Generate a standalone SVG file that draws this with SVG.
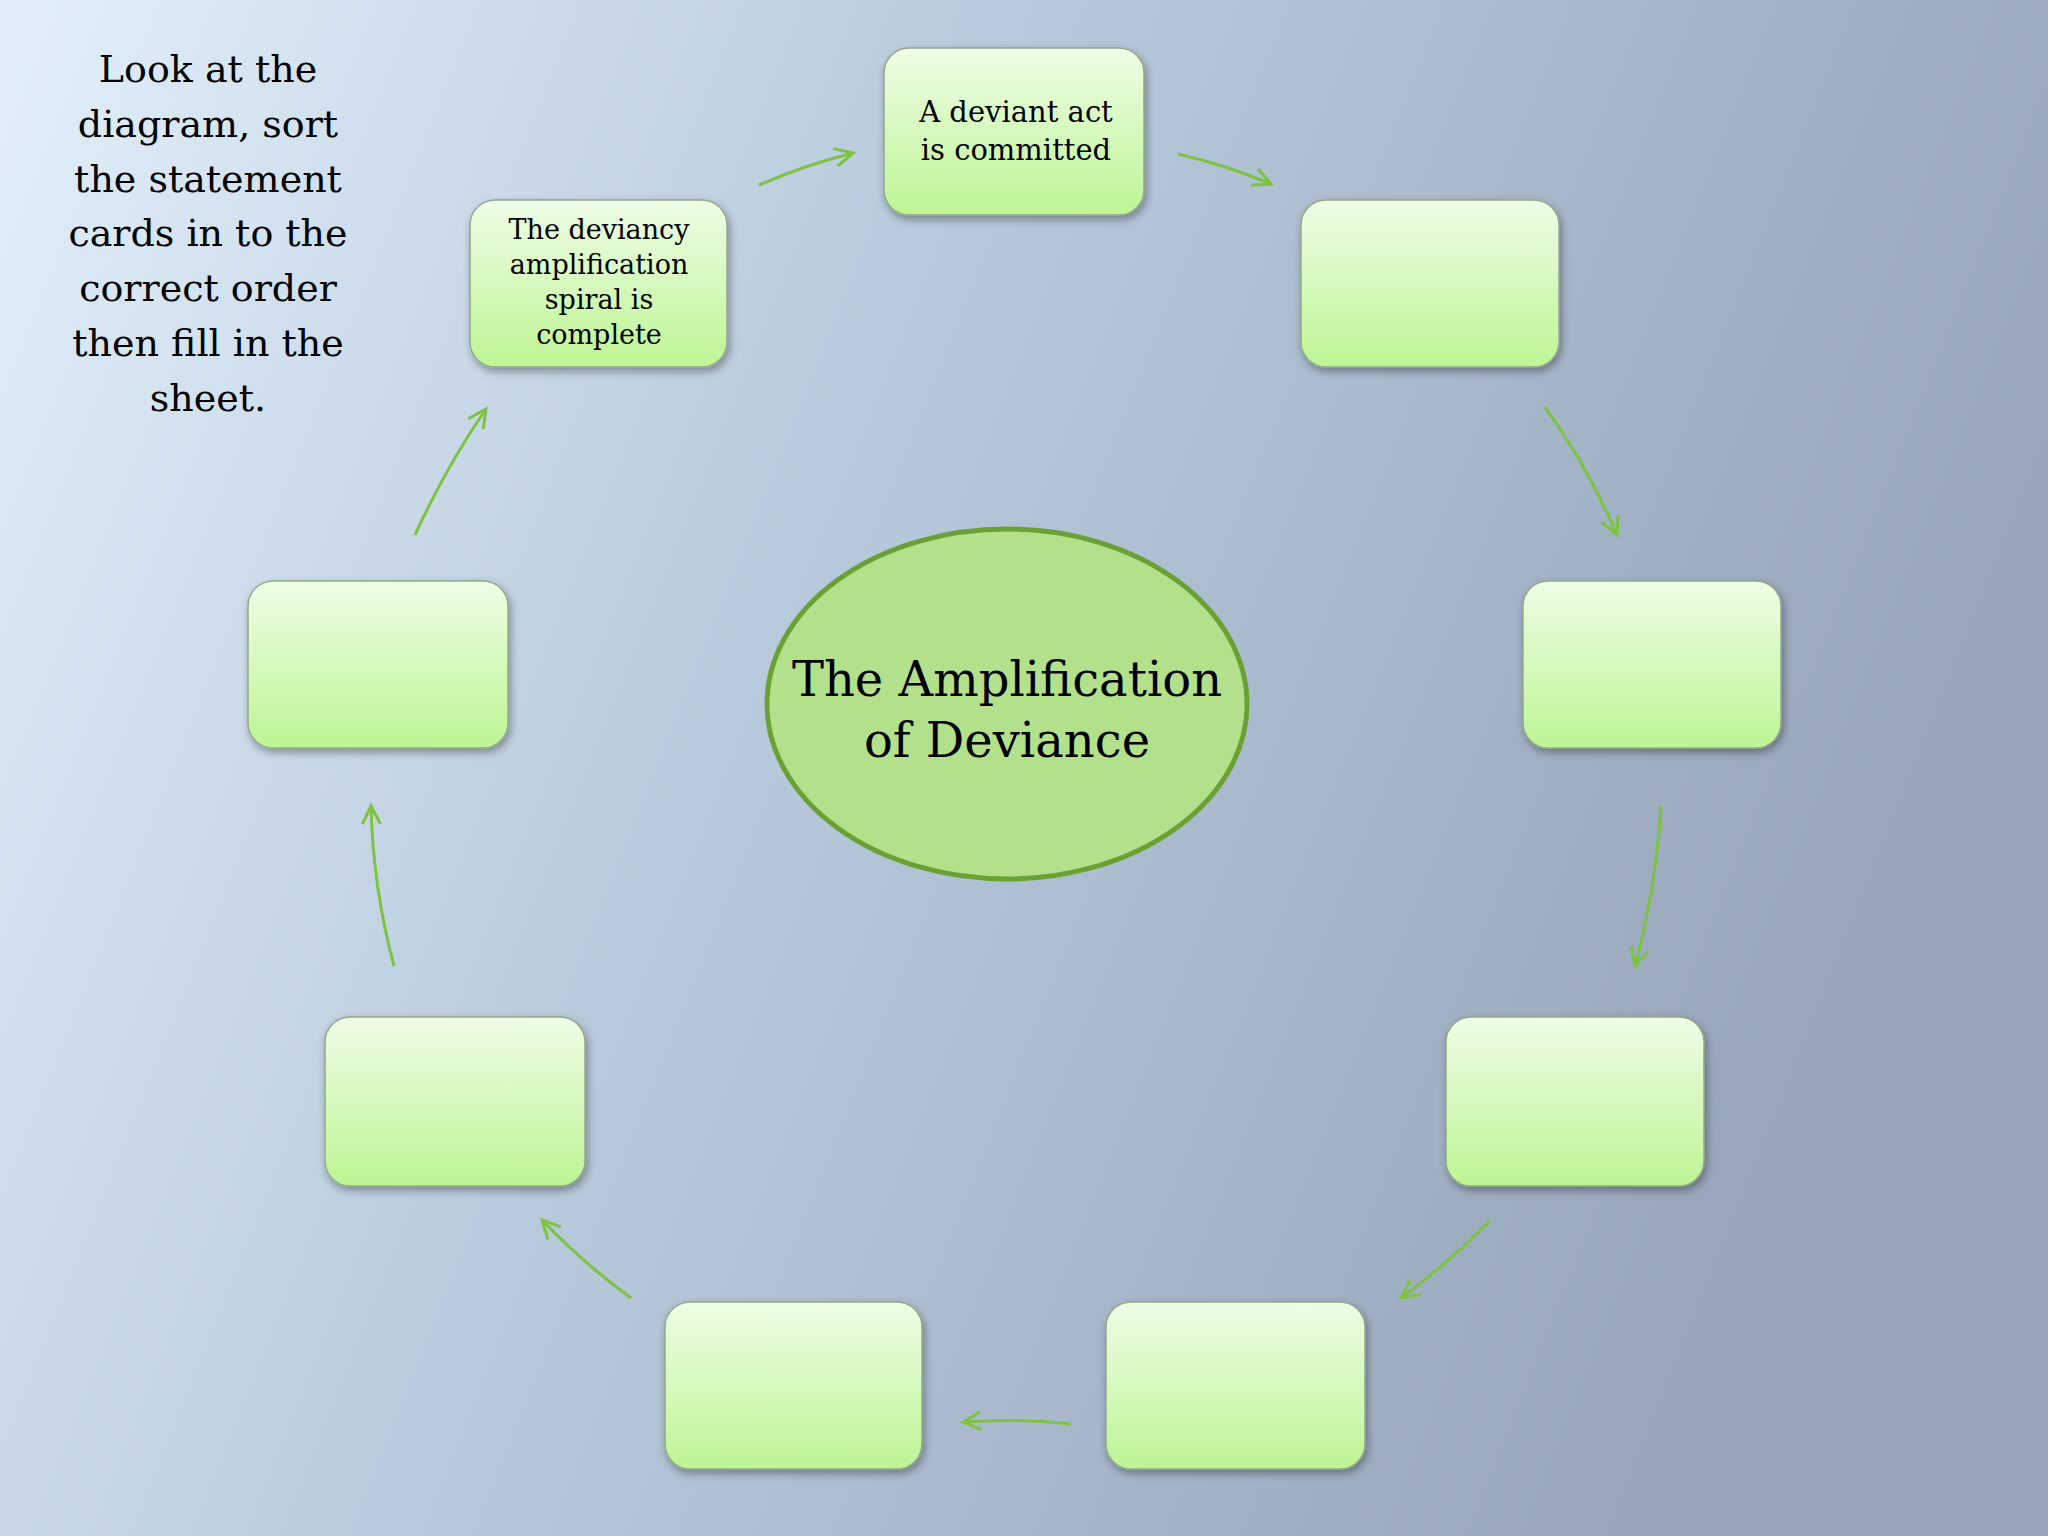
<svg xmlns="http://www.w3.org/2000/svg" width="2048" height="1536" viewBox="0 0 2048 1536">
<defs>
<linearGradient id="bg" x1="0" y1="0" x2="1" y2="0.3">
<stop offset="0" stop-color="#e2effb"/><stop offset="0.45" stop-color="#b8cadb"/><stop offset="1" stop-color="#97a6ba"/>
</linearGradient>
<linearGradient id="box" x1="0" y1="0" x2="0" y2="1">
<stop offset="0" stop-color="#effde6"/><stop offset="1" stop-color="#bdf594"/>
</linearGradient>
<filter id="sh" x="-10%" y="-10%" width="130%" height="130%"><feDropShadow dx="2" dy="4" stdDeviation="4" flood-color="#000" flood-opacity="0.35"/></filter>
<marker id="ah" viewBox="0 0 24 24" refX="21" refY="12" markerWidth="24" markerHeight="24" markerUnits="userSpaceOnUse" orient="auto">
<path d="M3,3 L21,12 L3,21" fill="none" stroke="#7dc242" stroke-width="3"/>
</marker>
<style>
.b{fill:url(#box);stroke:#93a889;stroke-width:1.5;filter:url(#sh)}
.c{fill:none;stroke:#7dc242;stroke-width:3;marker-end:url(#ah)}
.t{font-family:"DejaVu Serif","Liberation Serif",serif;fill:#000;text-anchor:middle}
</style>
</defs>
<rect width="2048" height="1536" fill="url(#bg)"/>
<g id="instructions" class="t" font-size="38">
<text x="208" y="82">Look at the</text><text x="208" y="137">diagram, sort</text><text x="208" y="192">the statement</text><text x="208" y="246">cards in to the</text><text x="208" y="301">correct order</text><text x="208" y="356">then fill in the</text><text x="208" y="411">sheet.</text>
</g>
<g id="connectors">
<path class="c" d="M759,185 Q805,165 853,153"/>
<path class="c" d="M1178,154 Q1226,165 1271,184"/>
<path class="c" d="M1545,407 Q1587,465 1617,535"/>
<path class="c" d="M1661,806 Q1656,888 1635,966"/>
<path class="c" d="M1490,1220 Q1450,1262 1401,1298"/>
<path class="c" d="M1071,1424 Q1017,1418 963,1422"/>
<path class="c" d="M631,1298 Q582,1262 542,1220"/>
<path class="c" d="M394,966 Q373,888 371,806"/>
<path class="c" d="M415,535 Q446,467 486,409"/>
</g>
<g id="center">
<ellipse cx="1007" cy="704" rx="240" ry="175" fill="#b3e08a" stroke="#6aa135" stroke-width="5"/>
<text class="t" font-size="48" x="1007" y="696">The Amplification</text>
<text class="t" font-size="48" x="1007" y="757">of Deviance</text>
</g>
<g id="n1"><rect class="b" x="884" y="48" width="260" height="167" rx="25"/>
<text class="t" font-size="29" x="1016" y="122">A deviant act</text><text class="t" font-size="29" x="1016" y="160">is committed</text></g>
<g id="n2"><rect class="b" x="1301" y="200" width="258" height="167" rx="25"/></g>
<g id="n3"><rect class="b" x="1523" y="581" width="258" height="167" rx="25"/></g>
<g id="n4"><rect class="b" x="1446" y="1017" width="258" height="169" rx="25"/></g>
<g id="n5"><rect class="b" x="1106" y="1302" width="259" height="167" rx="25"/></g>
<g id="n6"><rect class="b" x="665" y="1302" width="257" height="167" rx="25"/></g>
<g id="n7"><rect class="b" x="325" y="1017" width="260" height="169" rx="25"/></g>
<g id="n8"><rect class="b" x="248" y="581" width="260" height="167" rx="25"/></g>
<g id="n9"><rect class="b" x="470" y="200" width="257" height="167" rx="25"/>
<text class="t" font-size="27" x="599" y="239">The deviancy</text><text class="t" font-size="27" x="599" y="274">amplification</text><text class="t" font-size="27" x="599" y="309">spiral is</text><text class="t" font-size="27" x="599" y="344">complete</text></g>
</svg>
